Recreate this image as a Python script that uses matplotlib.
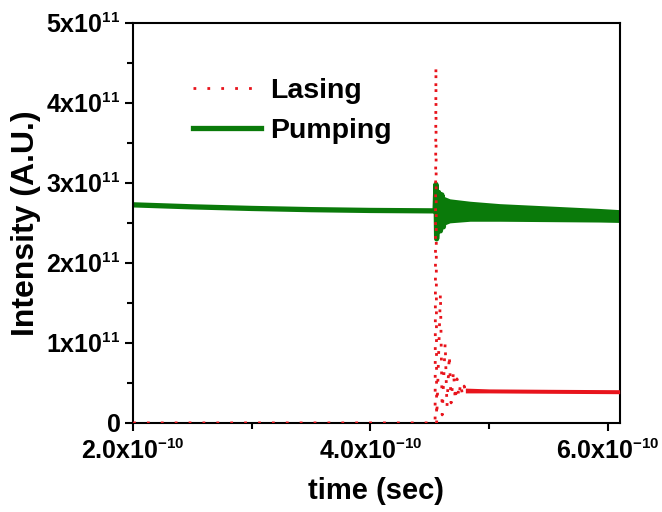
import numpy as np
import matplotlib
matplotlib.use("Agg")
import matplotlib.pyplot as plt
import matplotlib._mathtext as mathtext_impl
from matplotlib.ticker import FuncFormatter, FixedLocator

plt.rcParams['font.family'] = ['Liberation Sans', 'DejaVu Sans']
plt.rcParams['font.weight'] = 'bold'
plt.rcParams['mathtext.fontset'] = 'custom'
plt.rcParams['mathtext.rm'] = 'Liberation Sans:bold'
plt.rcParams['mathtext.it'] = 'Liberation Sans:bold'
plt.rcParams['mathtext.bf'] = 'Liberation Sans:bold'
plt.rcParams['mathtext.default'] = 'bf'
# smaller exponents, as in the original figure
mathtext_impl.SHRINK_FACTOR = 0.6

T_UNIT = 1e-10   # time values below are in units of 1e-10 s
I_UNIT = 1e11    # intensity values below are in units of 1e11 A.U.

x_major = [2.0, 4.0, 6.0]
x_minor = [3.0, 5.0]
y_major = [0, 1, 2, 3, 4, 5]
y_minor = [0.5, 1.5, 2.5, 3.5, 4.5]

# pumping: slow decay, kick at onset, then a dense oscillating band
pump_t = [2.0, 2.5, 3.0, 3.5, 4.0, 4.5, 4.545, 4.552, 4.558, 4.575, 4.59, 4.602, 4.615, 4.62]
pump_i = [2.725, 2.70, 2.68, 2.665, 2.655, 2.65, 2.65, 2.98, 2.30, 2.88, 2.40, 2.85, 2.45, 2.65]
band_t = [4.62, 4.67, 4.84, 5.09, 5.51, 5.93, 6.10]
band_hi = [2.83, 2.80, 2.77, 2.74, 2.71, 2.68, 2.665]
band_lo = [2.47, 2.50, 2.52, 2.52, 2.515, 2.51, 2.505]

# lasing: zero, big spike, relaxation oscillations, steady level
lase_t = [2.0, 4.545, 4.552, 4.558, 4.59, 4.605, 4.63, 4.645, 4.665, 4.68,
          4.70, 4.715, 4.73, 4.745, 4.76, 4.775, 4.79, 4.805, 4.82]
lase_i = [0.0, 0.0, 4.45, 0.0, 1.62, 0.10, 1.0, 0.20, 0.85, 0.25,
          0.65, 0.28, 0.55, 0.32, 0.50, 0.35, 0.46, 0.37, 0.42]
lband_t = [4.80, 5.0, 5.5, 6.10]
lband_hi = [0.435, 0.425, 0.42, 0.415]
lband_lo = [0.375, 0.375, 0.37, 0.365]

green = '#0a7a0a'
red = '#e8141c'

fig = plt.figure(figsize=(6.62, 5.12), dpi=100)
ax = fig.add_axes([0.201, 0.174, 0.735, 0.7815])

ax.plot(np.array(lase_t) * T_UNIT, np.array(lase_i) * I_UNIT, color=red,
        lw=2, linestyle=(0, (1, 4)), label='Lasing', zorder=3)
ax.fill_between(np.array(lband_t) * T_UNIT, np.array(lband_lo) * I_UNIT,
                np.array(lband_hi) * I_UNIT, color=red, lw=0, zorder=3)
ax.plot(np.array(pump_t) * T_UNIT, np.array(pump_i) * I_UNIT, color=green,
        lw=3.8, label='Pumping', zorder=2)
ax.fill_between(np.array(band_t) * T_UNIT, np.array(band_lo) * I_UNIT,
                np.array(band_hi) * I_UNIT, color=green, lw=0, zorder=2)

ax.set_xlim(2.0 * T_UNIT, 6.10 * T_UNIT)
ax.set_ylim(0, 5 * I_UNIT)

ax.xaxis.set_major_locator(FixedLocator(np.array(x_major) * T_UNIT))
ax.xaxis.set_minor_locator(FixedLocator(np.array(x_minor) * T_UNIT))
ax.yaxis.set_major_locator(FixedLocator(np.array(y_major) * I_UNIT))
ax.yaxis.set_minor_locator(FixedLocator(np.array(y_minor) * I_UNIT))

def xfmt(v, pos):
    return r'$%.1fx10^{-10}$' % (v / T_UNIT)

def yfmt(v, pos):
    n = int(round(v / I_UNIT))
    if n == 0:
        return '0'
    return r'$%dx10^{11}$' % n

ax.xaxis.set_major_formatter(FuncFormatter(xfmt))
ax.yaxis.set_major_formatter(FuncFormatter(yfmt))

ax.tick_params(which='both', direction='out', width=1.5, labelsize=18)
ax.tick_params(which='major', length=6)
ax.tick_params(which='minor', length=4)
ax.tick_params(axis='x', pad=6)
ax.tick_params(axis='y', pad=3)
for sp in ax.spines.values():
    sp.set_linewidth(1.5)

ax.set_xlabel('time (sec)', fontsize=21, fontweight='bold')
ax.set_ylabel('Intensity (A.U.)', fontsize=23, fontweight='bold')
ax.xaxis.set_label_coords(0.5, -0.135)
ax.yaxis.set_label_coords(-0.19, 0.5)

ax.legend(loc='upper left', bbox_to_anchor=(0.123, 0.862), frameon=False,
          fontsize=20.5, handlelength=2.4, handletextpad=0.3,
          borderpad=0, borderaxespad=0, labelspacing=0.5)

fig.savefig('out.png', dpi=100)
